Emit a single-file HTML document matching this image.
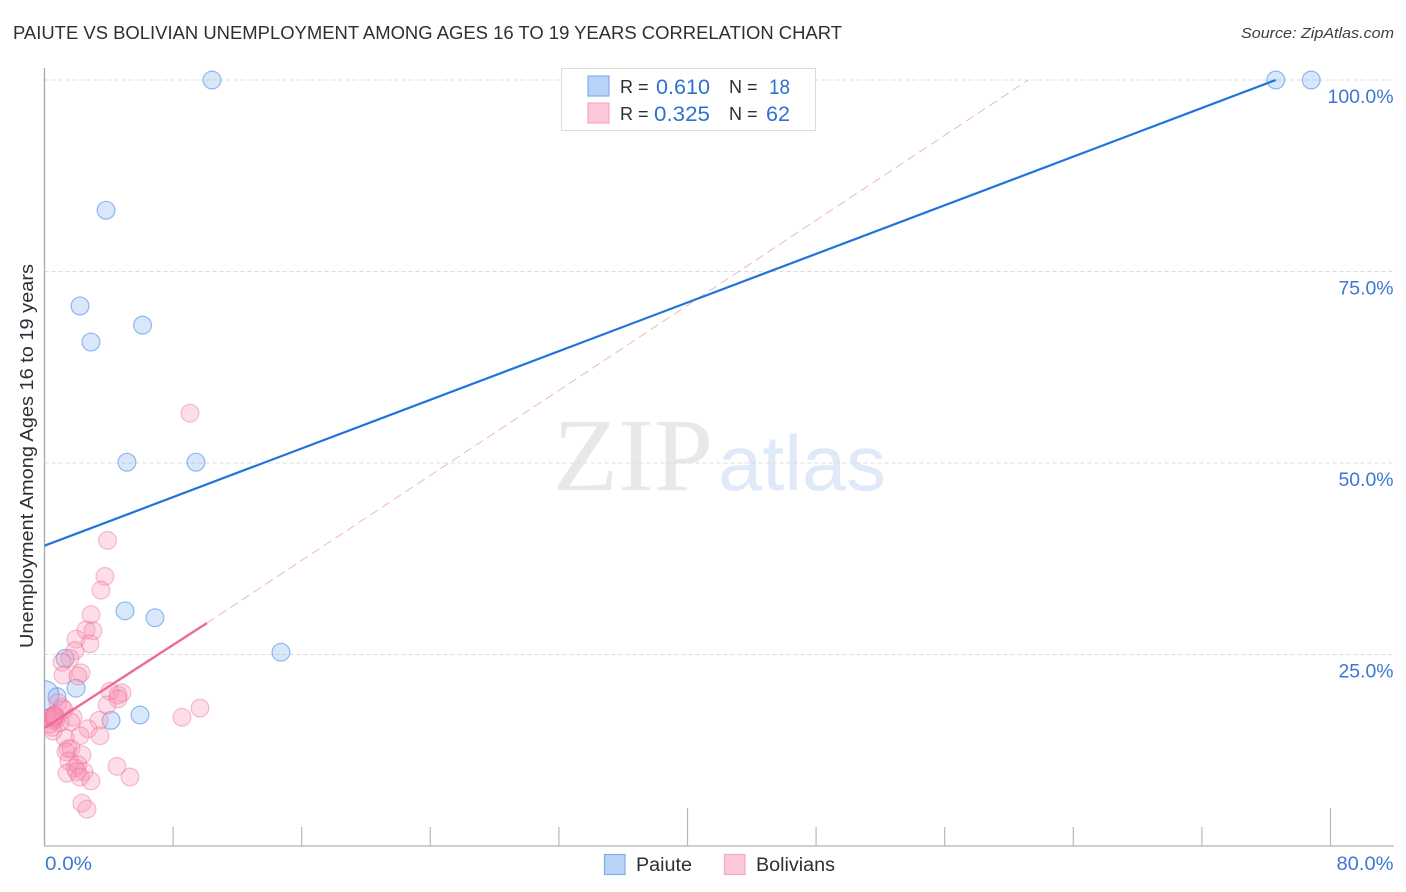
<!DOCTYPE html>
<html lang="en">
<head>
<meta charset="utf-8">
<title>Paiute vs Bolivian Unemployment Correlation Chart</title>
<style>
html,body{margin:0;padding:0;background:#fff;width:1406px;height:892px;overflow:hidden}
svg{display:block}
text{font-family:"Liberation Sans",sans-serif}
</style>
</head>
<body>
<svg id="chart" xmlns="http://www.w3.org/2000/svg" width="1406" height="892" viewBox="0 0 1406 892">
  <defs><clipPath id="plot-clip"><rect x="44.5" y="60" width="1350" height="786"/></clipPath></defs>
  <text x="13" y="39" font-size="18" fill="#2b2f36" textLength="829" lengthAdjust="spacingAndGlyphs">PAIUTE VS BOLIVIAN UNEMPLOYMENT AMONG AGES 16 TO 19 YEARS CORRELATION CHART</text>
  <text x="1241" y="38" font-size="15" font-style="italic" fill="#3a3f46" textLength="153" lengthAdjust="spacingAndGlyphs">Source: ZipAtlas.com</text>
  <g>
    <text x="553" y="490" font-size="104" fill="#e8e8e8" textLength="160" lengthAdjust="spacingAndGlyphs" style="font-family:'Liberation Serif',serif">ZIP</text>
    <text x="718" y="490" font-size="78" fill="#dfe9f8" textLength="168" lengthAdjust="spacingAndGlyphs">atlas</text>
  </g>
  <g id="grid"></g>
  <g id="axes"></g>
  <g id="trends" clip-path="url(#plot-clip)"></g>
  <g id="points" clip-path="url(#plot-clip)"></g>
  <text transform="translate(33,456) rotate(-90)" text-anchor="middle" font-size="18" fill="#2b2f36" textLength="384" lengthAdjust="spacingAndGlyphs">Unemployment Among Ages 16 to 19 years</text>

  <g>
    <rect x="561.5" y="68.5" width="254" height="62" fill="#fff" stroke="#dcdcdc" stroke-width="1"/>
    <rect x="588" y="76" width="21" height="20" fill="#bad4f8" stroke="#7faee8" stroke-width="1.2"/>
    <rect x="588" y="103" width="21" height="20" fill="#fcc8d9" stroke="#f5a8c2" stroke-width="1.2"/>
    <text x="620" y="93" font-size="18" fill="#2b2f36">R =</text>
    <text x="656" y="94" font-size="21" fill="#2f70d0" textLength="54" lengthAdjust="spacingAndGlyphs">0.610</text>
    <text x="729" y="93" font-size="18" fill="#2b2f36">N =</text>
    <text x="769" y="94" font-size="21" fill="#2f70d0" textLength="21" lengthAdjust="spacingAndGlyphs">18</text>
    <text x="620" y="120" font-size="18" fill="#2b2f36">R =</text>
    <text x="654" y="121" font-size="21" fill="#2f70d0" textLength="56" lengthAdjust="spacingAndGlyphs">0.325</text>
    <text x="729" y="120" font-size="18" fill="#2b2f36">N =</text>
    <text x="766" y="121" font-size="21" fill="#2f70d0" textLength="24" lengthAdjust="spacingAndGlyphs">62</text>
  </g>

  <g>
    <rect x="604.5" y="854.5" width="20.5" height="20" fill="#bad4f8" stroke="#7faee8" stroke-width="1.2"/>
    <text x="636" y="871" font-size="19" fill="#2b2f36" textLength="56" lengthAdjust="spacingAndGlyphs">Paiute</text>
    <rect x="724.5" y="854.5" width="20.5" height="20" fill="#fcc8d9" stroke="#f5a8c2" stroke-width="1.2"/>
    <text x="756" y="871" font-size="19" fill="#2b2f36" textLength="79" lengthAdjust="spacingAndGlyphs">Bolivians</text>
  </g>
</svg>
<script>
const yTicks = [25, 50, 75, 100];
const yTickLabels = ["25.0%", "50.0%", "75.0%", "100.0%"];
const xTicks = [0, 8, 16, 24, 32, 40, 48, 56, 64, 72, 80];
const xTickLabels = ["0.0%", "80.0%"];

const paiuteX = [10.42, 3.83, 2.21, 2.89, 6.1, 5.13, 9.42, 5.01, 6.87, 14.71, 1.28, 1.96, 0.78, 4.14, 5.94, 76.6, 78.8, 0];
const paiuteY = [100, 83.0, 70.5, 65.8, 68.0, 50.1, 50.1, 30.7, 29.8, 25.3, 24.5, 20.6, 19.5, 16.4, 17.1, 100, 100, 19.7];
const paiuteWeight = [1, 1, 1, 1, 1, 1, 1, 1, 1, 1, 1, 1, 1, 1, 1, 1, 1, 2.6];

const bolivianX = [9.05, 3.92, 3.76, 3.51, 2.89, 2.58, 3.02, 1.96, 2.83, 1.90, 1.59, 1.09, 2.27, 1.15, 2.08, 4.07, 4.82, 4.57, 4.57, 3.89, 8.55, 9.67, 3.39, 1.77, 1.65, 2.71, 3.45, 2.21, 1.28, 1.46, 1.65, 1.34, 2.33, 1.52, 4.51, 5.32, 2.08, 1.90, 1.40, 2.46, 2.02, 2.21, 2.89, 2.33, 2.64, 0.59, 0.53, 0.47, 0.65, 0.59, 0.53, 0.72, 0.47, 0.84, 1.09, 1.21, 0.47, 0.96, 0.53, 0.3, 0.65, 0.59];
const bolivianY = [56.5, 39.9, 35.2, 33.4, 30.2, 28.2, 28.1, 27.0, 26.4, 25.5, 24.5, 24.0, 22.6, 22.3, 22.2, 20.2, 20.0, 19.7, 19.2, 18.4, 16.8, 18.0, 16.4, 16.8, 16.2, 15.3, 14.4, 14.4, 14.1, 12.7, 12.7, 12.3, 11.9, 11.1, 10.4, 9.0, 10.6, 10.2, 9.5, 9.7, 9.7, 9.0, 8.5, 5.6, 4.8, 16.7, 17.0, 16.5, 16.9, 16.4, 16.7, 16.6, 16.9, 18.7, 18.1, 17.8, 15.5, 16.1, 15.0, 15.9, 17.1, 16.9];

const paiuteTrendX = [0, 76.6];
const paiuteTrendY = [39.2, 100];
const bolivianTrendSolidX = [0, 10.1];
const bolivianTrendSolidY = [15.4, 29.1];
const bolivianTrendDashX = [10.1, 61.2];
const bolivianTrendDashY = [29.1, 100];

const SVGNS = "http://www.w3.org/2000/svg";
const xScale = v => 44.5 + v * 16.075;
const yScale = v => 846 - v * 7.66;
function make(tag, parent, attrs, text) {
  const el = document.createElementNS(SVGNS, tag);
  for (const k in attrs) el.setAttribute(k, attrs[k]);
  if (text !== undefined) el.textContent = text;
  parent.appendChild(el);
  return el;
}
const gridG = document.getElementById("grid");
const axesG = document.getElementById("axes");
const trendsG = document.getElementById("trends");
const pointsG = document.getElementById("points");

yTicks.forEach((t, i) => {
  const line = make("line", gridG, {x1: 44.5, x2: 1394, y1: yScale(t), y2: yScale(t), stroke: "#dcdcdc", "stroke-width": 1, "stroke-dasharray": "4 3"});
  
  
  const label = make("text", axesG, {x: 1393.5, y: yScale(t) + 23, "text-anchor": "end", "font-size": 19.5, fill: "#3f76d2", textLength: yTickLabels[i].length === 6 ? 66 : 55, lengthAdjust: "spacingAndGlyphs"}, yTickLabels[i]);
  
  
});

const yAxis = make("line", axesG, {x1: 44.5, x2: 44.5, y1: 68, y2: 846, stroke: "#a8a8a8", "stroke-width": 1.3});


const xAxis = make("line", axesG, {x1: 44, x2: 1394, y1: 846, y2: 846, stroke: "#b4b4b4", "stroke-width": 1.3});



xTicks.forEach((t, i) => {
  if (i === 0) return;
  const tall = (t === 40 || t === 80);
  const tick = make("line", axesG, {x1: xScale(t), x2: xScale(t), y1: tall ? 808 : 827, y2: 846, stroke: "#b8b8b8", "stroke-width": 1.2});
  
  
});
const xLabelLeft = make("text", axesG, {x: 45, y: 870, "font-size": 19.5, fill: "#3f76d2", textLength: 47, lengthAdjust: "spacingAndGlyphs"}, xTickLabels[0]);


const xLabelRight = make("text", axesG, {x: 1393.5, y: 870, "text-anchor": "end", "font-size": 19.5, fill: "#3f76d2", textLength: 57, lengthAdjust: "spacingAndGlyphs"}, xTickLabels[1]);



const bolivianDash = make("line", trendsG, {x1: xScale(bolivianTrendDashX[0]), y1: yScale(bolivianTrendDashY[0]), x2: xScale(bolivianTrendDashX[1]), y2: yScale(bolivianTrendDashY[1]), stroke: "#eeb6c9", "stroke-width": 1, "stroke-dasharray": "9 5"});



paiuteX.forEach((x, i) => {
  const c = make("circle", pointsG, {cx: xScale(x), cy: yScale(paiuteY[i]), r: 8.9 * Math.sqrt(paiuteWeight[i]), fill: "rgba(120,170,240,0.28)", stroke: "rgba(45,125,225,0.5)", "stroke-width": 1.2});
  
  
});
bolivianX.forEach((x, i) => {
  const c = make("circle", pointsG, {cx: xScale(x), cy: yScale(bolivianY[i]), r: 8.9, fill: "rgba(248,150,185,0.32)", stroke: "rgba(238,105,150,0.42)", "stroke-width": 1.2});
  
  
});

const paiuteTrend = make("line", pointsG, {x1: xScale(paiuteTrendX[0]), y1: yScale(paiuteTrendY[0]), x2: xScale(paiuteTrendX[1]), y2: yScale(paiuteTrendY[1]), stroke: "#1f74dc", "stroke-width": 2.2});


const bolivianTrend = make("line", pointsG, {x1: xScale(bolivianTrendSolidX[0]), y1: yScale(bolivianTrendSolidY[0]), x2: xScale(bolivianTrendSolidX[1]), y2: yScale(bolivianTrendSolidY[1]), stroke: "#ec6a98", "stroke-width": 2.4});


</script>
</body>
</html>
